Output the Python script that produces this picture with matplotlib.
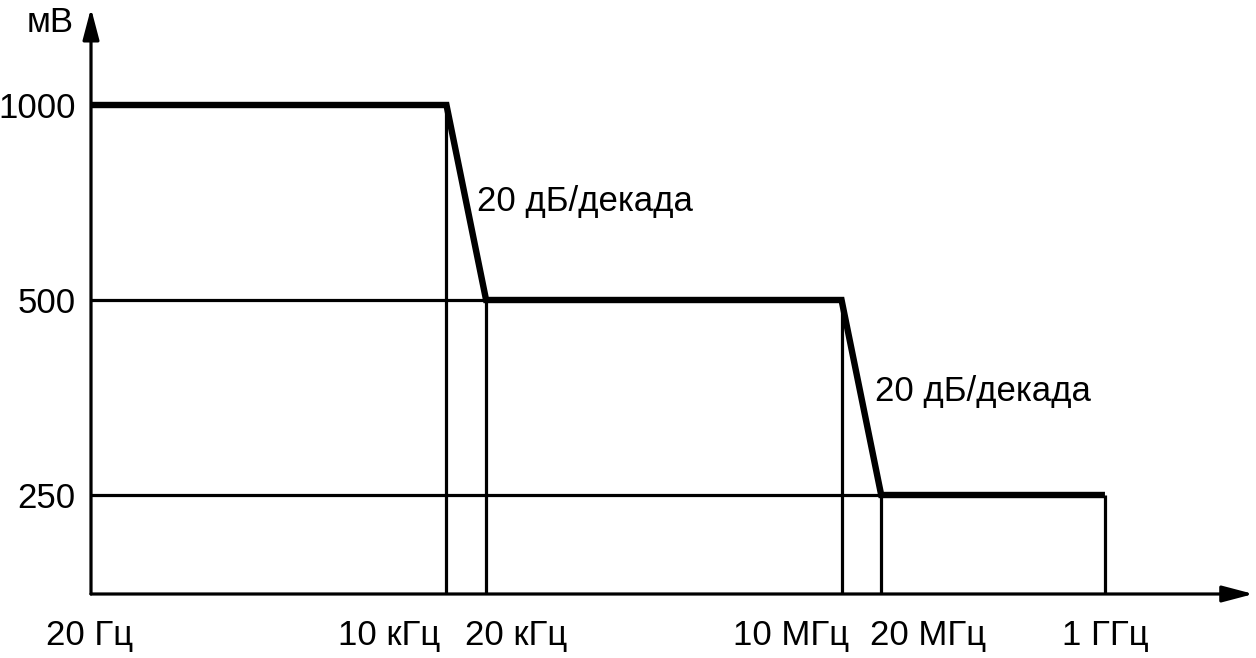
import matplotlib
matplotlib.use("Agg")
import matplotlib.pyplot as plt

plt.rcParams['font.family'] = ['Liberation Sans', 'DejaVu Sans']

# Data
freqs = [20, 1e4, 2e4, 1e7, 2e7, 1e9]             # Hz
levels = [1000, 1000, 500, 500, 250, 250]           # mV
x_tick_vals = [20, 1e4, 2e4, 1e7, 2e7, 1e9]
x_tick_labels = ['20 Гц', '10 кГц', '20 кГц', '10 МГц', '20 МГц', '1 ГГц']
y_tick_vals = [250, 500, 1000]
y_tick_labels = ['250', '500', '1000']
slope_label = '20 дБ/декада'
y_unit = 'мВ'

W, H = 1256, 658
fig = plt.figure(figsize=(W / 100, H / 100), dpi=100)
ax_l, ax_r, ax_b, ax_t = 91, 1250, 594, 10
ax = fig.add_axes([ax_l / W, (H - ax_b) / H, (ax_r - ax_l) / W, (ax_b - ax_t) / H])
ax.set_xscale('log')
ax.set_yscale('log')
dec_px = 131.7  # px per decade
xmax = 20 * 10 ** ((ax_r - ax_l) / dec_px)
ax.set_xlim(20, xmax)
ypx_dec = (495 - 105) / (3 - 2.39794)
ax.set_ylim(250 * 10 ** (-(ax_b - 495) / ypx_dec), 1000 * 10 ** ((105 - ax_t) / ypx_dec))
ymin = ax.get_ylim()[0]

for s in ax.spines.values():
    s.set_visible(False)
ax.minorticks_off()

thin = 2.3
# thin guide lines
ax.plot([freqs[0], freqs[2]], [levels[2], levels[2]], color='black', lw=thin, solid_capstyle='butt')
ax.plot([freqs[0], freqs[4]], [levels[4], levels[4]], color='black', lw=thin, solid_capstyle='butt')
ax.plot([freqs[1], freqs[1]], [ymin, levels[1]], color='black', lw=thin, solid_capstyle='butt')
for f, lv in zip(freqs[2:], levels[2:]):
    ax.plot([f, f], [ymin, lv], color='black', lw=thin, solid_capstyle='butt')

# main curve
ax.plot(freqs, levels, color='black', lw=4.6, solid_joinstyle='miter', solid_capstyle='butt', zorder=5)

# axes arrows
arrow = dict(arrowstyle='-|>,head_length=0.95,head_width=0.25', lw=2.3, color='black',
             mutation_scale=20, shrinkA=0, shrinkB=0)
ax.annotate('', xy=(1.003, 0), xytext=(0, 0), xycoords='axes fraction', arrowprops=arrow,
            annotation_clip=False)
ax.annotate('', xy=(0, 1.003), xytext=(0, 0), xycoords='axes fraction', arrowprops=arrow,
            annotation_clip=False)

fs = 25
ax.set_xticks([])
aligns = ['center', 'right', 'left', 'right', 'left', 'center']
offs = [-1, -6, -21, 8, -11, 0]
for f, lab, ha, dx in zip(x_tick_vals, x_tick_labels, aligns, offs):
    ax.annotate(lab, xy=(f, 0), xycoords=('data', 'axes fraction'), xytext=(dx, -41),
                textcoords='offset pixels', ha=ha, va='center', fontsize=fs,
                annotation_clip=False)
ax.set_yticks(y_tick_vals)
ax.set_yticklabels(y_tick_labels, fontsize=fs)
ax.tick_params(axis='y', length=0, pad=11)

fig.text(50 / W, 1 - 22 / H, y_unit, fontsize=fs, ha='center', va='center')

ax.text(477 / W, 1 - 201 / H, slope_label, fontsize=fs, ha='left', va='center', transform=fig.transFigure)
ax.text(875 / W, 1 - 391 / H, slope_label, fontsize=fs, ha='left', va='center', transform=fig.transFigure)

fig.savefig('out.png', dpi=100)
